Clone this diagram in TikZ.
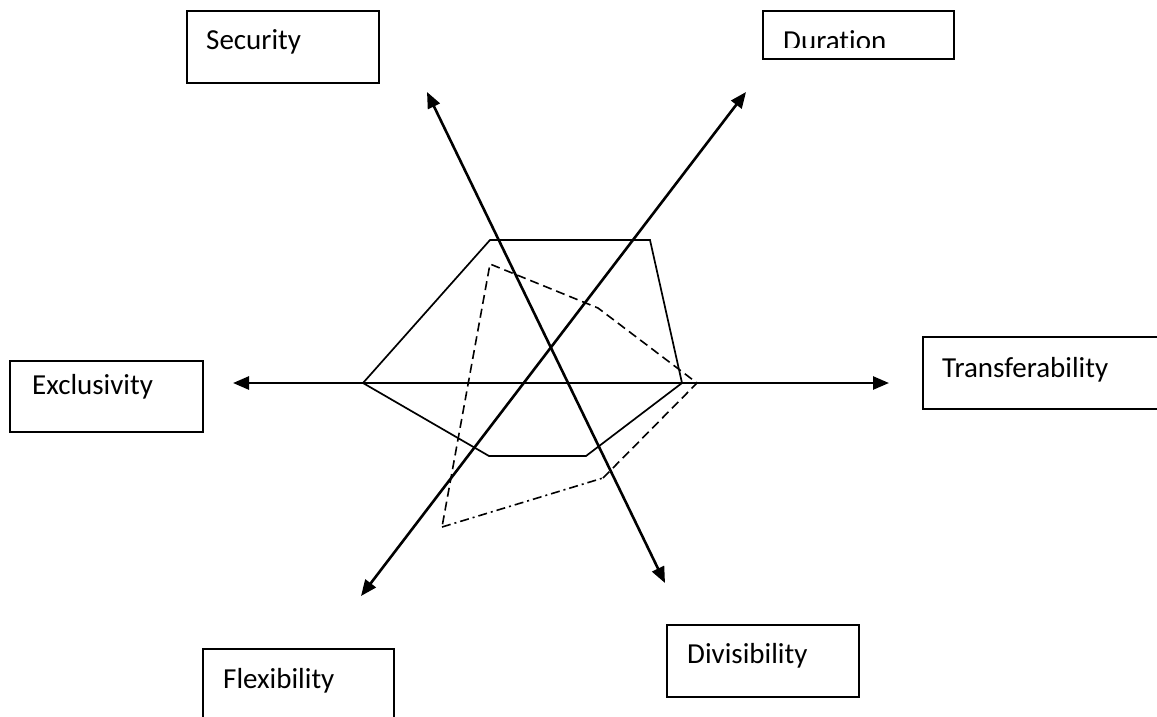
\documentclass[tikz,border=0pt]{standalone}
\usepackage{fontspec}
\setmainfont[Ligatures=NoCommon]{Carlito}
\usetikzlibrary{arrows.meta}
\tikzset{
  box/.style={draw, line width=2pt, anchor=north west, inner sep=0pt},
  lbl/.style={anchor=base west, inner sep=0pt, font=\fontsize{29}{34}\selectfont},
  axis/.style={line width=2.6pt, {Triangle[length=16pt,width=13pt]}-{Triangle[length=16pt,width=13pt]}},
  poly/.style={line width=1.7pt, line join=miter},
  dpoly/.style={line width=1.6pt, dash pattern=on 9pt off 5pt},
  ddpoly/.style={line width=1.6pt, dash pattern=on 9pt off 4pt on 2pt off 4pt},
}
\begin{document}
\begin{tikzpicture}[x=1pt,y=-1pt]
\useasboundingbox (0,0) rectangle (1157,716);
% boxes
\node[box, minimum width=192pt, minimum height=72pt] (security) at (186,10) {};
\node[lbl] (securityt) at (206,49) {Security};
\node[box, minimum width=191pt, minimum height=48pt] (duration) at (762,10) {};
\begin{scope}
\clip (762,10) rectangle (953,47.5);
\node[lbl] (durationt) at (783,50) {Duration};
\end{scope}
\node[box, minimum width=193pt, minimum height=71pt] (exclusivity) at (9,360) {};
\node[lbl] (exclusivityt) at (32,394) {Exclusivity};
\node[box, minimum width=245pt, minimum height=72pt] (transfer) at (922,336) {};
\node[lbl] (transfert) at (942,377) {Transferability};
\node[box, minimum width=191pt, minimum height=80pt] (flexibility) at (202,648) {};
\node[lbl] (flexibilityt) at (223,688) {Flexibility};
\node[box, minimum width=192pt, minimum height=72pt] (divisibility) at (666,624) {};
\node[lbl] (divisibilityt) at (687,663) {Divisibility};
% axis end points
\coordinate (exL) at (233,383);
\coordinate (trR) at (889,383);
\coordinate (seT) at (427,92);
\coordinate (diB) at (665,583);
\coordinate (duT) at (746,92);
\coordinate (flB) at (361,596);
% polygons
\draw[poly] (490,240) -- (650,240) -- (682,383) -- (586,456) -- (489,456) -- (363,383) -- cycle;
\draw[dpoly] (603,478) -- (697,383) -- (598,308) -- (490,264) -- (442,527);
\draw[ddpoly] (442,527) -- (603,478);
% axes
\draw[axis] (exL) -- (trR);
\draw[axis] (seT) -- (diB);
\draw[axis] (duT) -- (flB);
\end{tikzpicture}
\end{document}
